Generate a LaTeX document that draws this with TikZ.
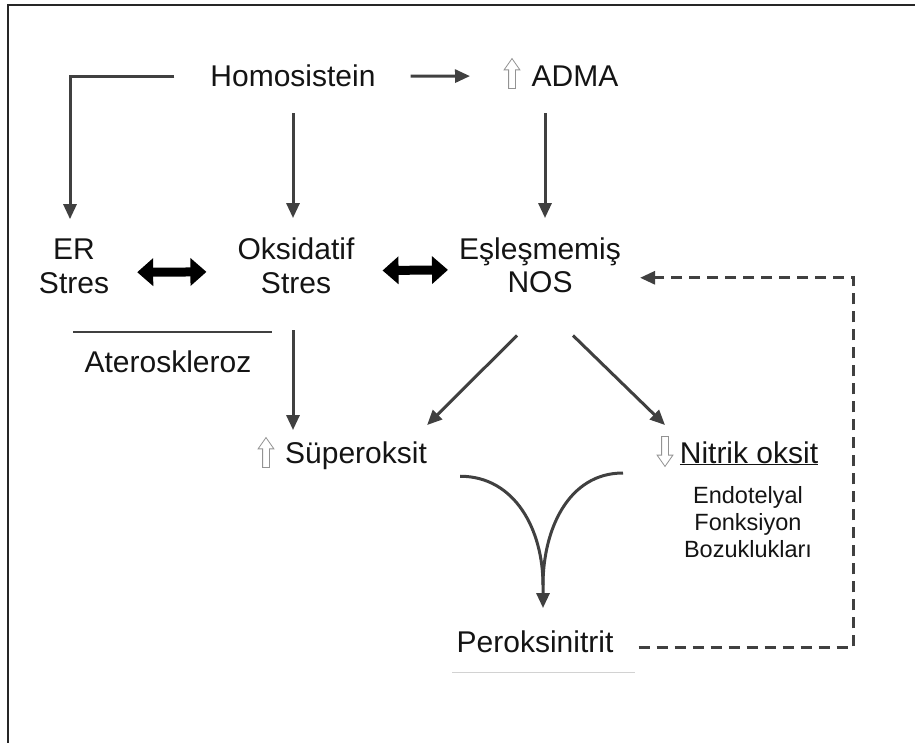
\documentclass[tikz,border=0pt]{standalone}
\usepackage{fontspec}
\setmainfont{Liberation Sans}
\usetikzlibrary{arrows.meta}
\usetikzlibrary{shapes.arrows}
\tikzset{lbl/.style = {inner sep = 0, anchor = base, align = center, text = black!92, font = \fontsize{30}{33}\selectfont}}
\tikzset{sml/.style = {lbl, font = \fontsize{23.5}{27}\selectfont}}
\tikzset{conn/.style = {draw = black!75, line width = 3pt}}
\tikzset{arr/.style = {conn, -{Triangle[length = 15pt, width = 13pt]}}}
\tikzset{dbl/.style = {draw = black, line width = 9pt, {Triangle[length = 16pt, width = 27pt]}-{Triangle[length = 16pt, width = 27pt]}}}
\tikzset{hollow/.style = {draw = gray!85, fill = white, line width = 0.8pt, single arrow, inner sep = 3pt, minimum height = 30pt, single arrow head extend = 4.5pt, single arrow tip angle = 70}}
\tikzset{dasharr/.style = {arr, dash pattern = on 11pt off 7pt}}

\begin{document}
\begin{tikzpicture}[x = 1pt, y = -1pt]

      \useasboundingbox (0, 0) rectangle (915, 743);
      \draw [line width = 1.5pt, black!85] (8, 743) -- (8, 5) -- (915, 5);

      \node [lbl] (hom) at (293, 87) {Homosistein};
      \node [lbl] (adma) at (575, 87) {ADMA};
      \node [hollow, shape border rotate = 90] (upadma) at (512, 76) {};
      \node [lbl] (er) at (74, 293) {ER\\Stres};
      \node [lbl] (oks) at (296, 293) {Oksidatif\\Stres};
      \node [lbl] (nos) at (540, 292) {Eşleşmemiş\\NOS};
      \node [lbl] (ater) at (168, 372) {Ateroskleroz};
      \node [lbl] (super) at (356, 463) {Süperoksit};
      \node [hollow, shape border rotate = 90] (upsuper) at (266, 455) {};
      \node [lbl] (nitrik) at (749, 463) {\underline{Nitrik oksit}};
      \node [hollow, shape border rotate = 270] (dnnitrik) at (665, 449) {};
      \node [sml] (endo) at (748, 557) {Endotelyal\\Fonksiyon\\Bozuklukları};
      \node [lbl] (perok) at (535, 652) {Peroksinitrit};

      \coordinate (vl) at ([shift = {(33, 21)}]super.east);
      \coordinate (vr) at ([shift = {(-42, 24)}]dnnitrik.center);
      \coordinate (vt) at ([shift = {(8, -22)}]perok.north);
      \coordinate (vm) at ([shift = {(0, -23)}]vt);

      \draw [arr, shorten <= 35pt, shorten >= 42pt] (hom.east) -- (upadma.center);
      \draw [arr, shorten >= 20pt] ([xshift = -36pt]hom.west) -| ([xshift = -4pt]er.north);
      \draw [arr, shorten <= 26pt, shorten >= 20pt] (hom.south) -- (hom.south |- oks.north);
      \draw [arr, shorten <= 26pt, shorten >= 19pt] ([xshift = 5pt]nos.north |- adma.south) -- ([xshift = 5pt]nos.north);
      \draw [dbl, shorten <= 28pt, shorten >= 31pt] ([yshift = -6pt]er.east) -- ([yshift = -6pt]oks.west);
      \draw [dbl, shorten <= 28pt, shorten >= 11pt] ([yshift = -5pt]oks.east) -- ([yshift = -5pt]nos.west);
      \draw [conn, line width = 2pt] (73, 332) -- (272, 332);
      \draw [arr, shorten <= 37pt, shorten >= 11pt] ([xshift = -3pt]oks.south) -- ([xshift = -3pt]oks.south |- super.north);
      \draw [arr] ([shift = {(-23, 43)}]nos.south) -- ([shift = {(0, -16)}]super.north east);
      \draw [arr] ([shift = {(33, 43)}]nos.south) -- ([shift = {(0, -24)}]dnnitrik.center);
      \draw [conn] (vl) .. controls +(55, 0) and +(0, -55) .. (vm);
      \draw [arr] (vr) .. controls +(-55, 0) and +(0, -55) .. (vm) -- (vt);
      \draw [gray!35, line width = 1pt] (452, 672) -- (635, 672);
      \draw [dasharr] ([shift = {(25, 6)}]perok.east) -- ++(215, 0) |- ([shift = {(19, 13)}]nos.east);
    \end{tikzpicture}
\end{document}
